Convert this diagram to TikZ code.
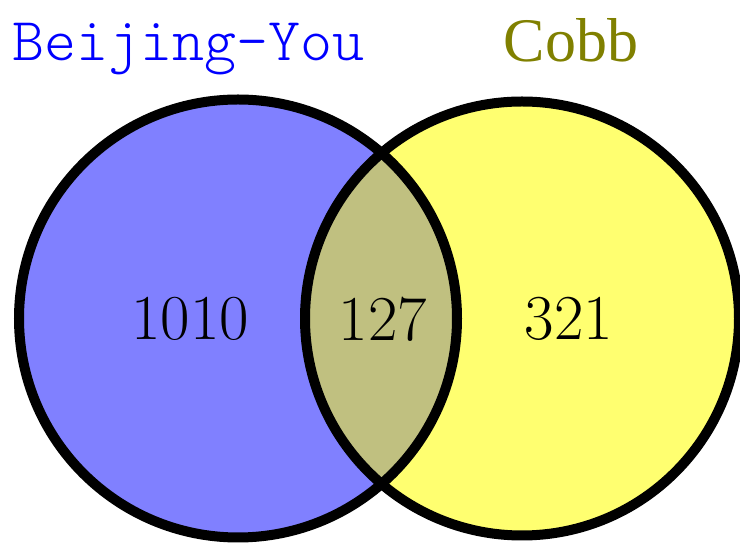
\documentclass[tikz,border=0pt]{standalone}
\usepackage{fontspec}
\usepackage{tikz}
\newfontfamily\cobbfont{Liberation Serif}
\definecolor{bjblue}{RGB}{128,128,255}
\definecolor{cbyellow}{RGB}{255,255,112}
\definecolor{overlap}{RGB}{192,192,128}
\definecolor{cbolive}{RGB}{128,128,0}
\begin{document}
\begin{tikzpicture}[x=1pt,y=1pt,
  count/.style={inner sep=0pt,font=\fontsize{64}{64}\selectfont},
  setname/.style={inner sep=0pt,anchor=base}]
\useasboundingbox (0,0) rectangle (740,543);
\fill[bjblue] (238,224.5) circle[radius=219];
\fill[cbyellow] (522,224.5) circle[radius=217];
\begin{scope}
\clip (238,224.5) circle[radius=219];
\fill[overlap] (522,224.5) circle[radius=217];
\end{scope}
\draw[line width=10pt] (238,224.5) circle[radius=219];
\draw[line width=10pt] (522,224.5) circle[radius=217];
\node[count] (bjonly) at (190,224) {1010};
\node[count] (both) at (383,224) {127};
\node[count] (cbonly) at (569,224) {321};
\node[setname,anchor=base west,text=blue,font=\fontsize{61}{61}\ttfamily\fontseries{l}\selectfont] (bjname) at (12,482) {Beijing-You};
\node[setname,text=cbolive,font=\fontsize{62}{62}\cobbfont] (cbname) at (571,481) {Cobb};
\end{tikzpicture}
\end{document}
